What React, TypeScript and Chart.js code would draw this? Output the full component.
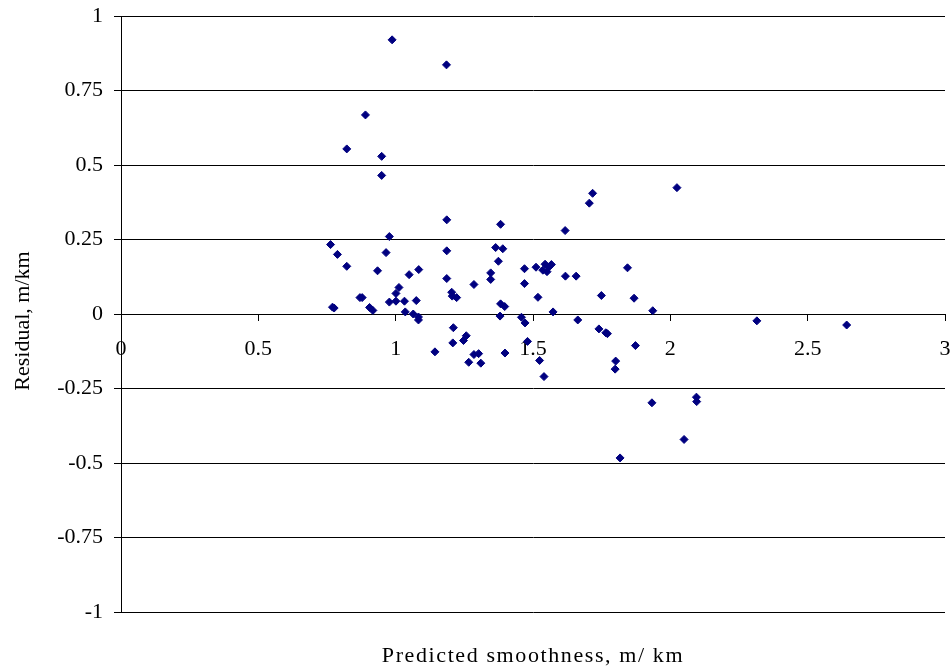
import React, { useEffect, useRef } from "react";
import { Chart, registerables } from "chart.js";

Chart.register(...registerables);

const predicted: number[] = [
  0.987, 1.185, 0.89, 0.822, 0.949, 0.949, 1.186, 1.382, 0.763, 0.977,
  0.788, 0.965, 1.186, 1.364, 1.39, 0.822, 0.934, 1.049, 1.084, 1.374,
  1.346, 1.346, 1.186, 1.285, 1.204, 1.206, 1.222, 1.469, 1.469, 1.511,
  1.544, 1.567, 1.536, 1.551, 1.558, 1.518, 1.012, 1.001, 0.87, 0.878,
  0.77, 0.776, 0.905, 0.917, 0.977, 1.001, 1.032, 1.075, 1.035, 1.064,
  1.083, 1.083, 1.382, 1.397, 1.38, 1.458, 1.471, 1.21, 1.143, 1.208,
  1.257, 1.247, 1.285, 1.302, 1.266, 1.31, 1.398, 1.48, 1.524, 1.54,
  2.024, 1.717, 1.705, 1.617, 1.618, 1.657, 1.844, 1.749, 1.868, 1.573,
  1.936, 1.663, 1.74, 1.765, 1.771, 1.873, 1.801, 1.799, 1.933, 2.095,
  2.096, 2.05, 1.817, 2.315, 2.642,
];

const residual: number[] = [
  0.92, 0.836, 0.668, 0.554, 0.529, 0.465, 0.316, 0.301, 0.233, 0.26,
  0.2, 0.206, 0.212, 0.223, 0.219, 0.16, 0.145, 0.132, 0.149, 0.177,
  0.138, 0.116, 0.119, 0.099, 0.073, 0.06, 0.055, 0.152, 0.102, 0.157,
  0.167, 0.166, 0.147, 0.142, 0.158, 0.056, 0.089, 0.069, 0.055, 0.055,
  0.023, 0.02, 0.022, 0.012, 0.04, 0.043, 0.043, 0.045, 0.007, 0.0,
  -0.01, -0.02, 0.034, 0.025, -0.007, -0.011, -0.03, -0.046, -0.127, -0.097,
  -0.073, -0.089, -0.136, -0.133, -0.162, -0.165, -0.131, -0.092, -0.156, -0.21,
  0.424, 0.405, 0.372, 0.28, 0.127, 0.127, 0.155, 0.062, 0.053, 0.007,
  0.011, -0.02, -0.05, -0.063, -0.066, -0.106, -0.158, -0.185, -0.298, -0.279,
  -0.294, -0.421, -0.483, -0.023, -0.037,
];

const xTickLabels: string[] = ["0", "0.5", "1", "1.5", "2", "2.5", "3"];
const yTickLabels: string[] = ["-1", "-0.75", "-0.5", "-0.25", "0", "0.25", "0.5", "0.75", "1"];

const xTitle = "Predicted smoothness, m/ km";
const yTitle = "Residual, m/km";

const FONT = '"Liberation Serif", "Times New Roman", serif';

export default function App() {
  const ref = useRef<HTMLCanvasElement | null>(null);

  useEffect(() => {
    if (!ref.current) return;
    const titlesPlugin = {
      id: "titles",
      afterDraw(chart: any) {
        const ctx = chart.ctx as CanvasRenderingContext2D;
        ctx.save();
        ctx.fillStyle = "#000";
        ctx.font = `22px ${FONT}`;
        ctx.textAlign = "center";
        ctx.textBaseline = "alphabetic";
        (ctx as any).letterSpacing = "1.6px";
        ctx.fillText(xTitle, 533, 662);
        (ctx as any).letterSpacing = "0px";
        ctx.translate(29, 321);
        ctx.rotate(-Math.PI / 2);
        ctx.fillText(yTitle, 0, 0);
        ctx.restore();
      },
    };

    const chart = new Chart(ref.current, {
      type: "scatter",
      data: {
        datasets: [
          {
            data: predicted.map((x, i) => ({ x, y: residual[i] })),
            pointStyle: "rectRot",
            pointRadius: 4,
            pointHoverRadius: 4,
            backgroundColor: "#000080",
            borderColor: "#000080",
            borderWidth: 1,
          },
        ],
      },
      options: {
        responsive: false,
        animation: false,
        layout: { padding: { top: 16, right: 5, bottom: 58, left: 0 } },
        plugins: {
          legend: { display: false },
          tooltip: { enabled: false },
        },
        scales: {
          x: {
            type: "linear",
            position: { y: 0 } as any,
            min: 0,
            max: 3,
            afterFit: (scale: any) => {
              scale.paddingLeft = 0;
              scale.paddingRight = 0;
              scale.paddingTop = 0;
              scale.paddingBottom = 0;
            },
            grid: {
              drawOnChartArea: false,
              drawTicks: true,
              tickLength: 6,
              color: "#000",
            },
            border: { display: true, color: "#000" },
            ticks: {
              stepSize: 0.5,
              color: "#000",
              font: { family: FONT, size: 22 },
              padding: 16,
              maxRotation: 0,
              callback: (_v: any, i: number) => xTickLabels[i],
            },
          },
          y: {
            type: "linear",
            min: -1,
            max: 1,
            afterFit: (scale: any) => {
              scale.width = 121;
              scale.paddingTop = 0;
              scale.paddingBottom = 0;
              scale.paddingLeft = 0;
              scale.paddingRight = 0;
            },
            grid: {
              color: "#000",
              lineWidth: 1,
              tickLength: 7,
            },
            border: { display: true, color: "#000" },
            ticks: {
              stepSize: 0.25,
              color: "#000",
              font: { family: FONT, size: 22 },
              padding: 11,
              callback: (_v: any, i: number) => yTickLabels[i],
            },
          },
        },
      },
      plugins: [titlesPlugin],
    });
    return () => chart.destroy();
  }, []);

  return (
    <div style={{ position: "fixed", left: 0, top: 0, width: 950, height: 670, background: "#fff" }}>
      <canvas ref={ref} width={950} height={670} />
    </div>
  );
}
